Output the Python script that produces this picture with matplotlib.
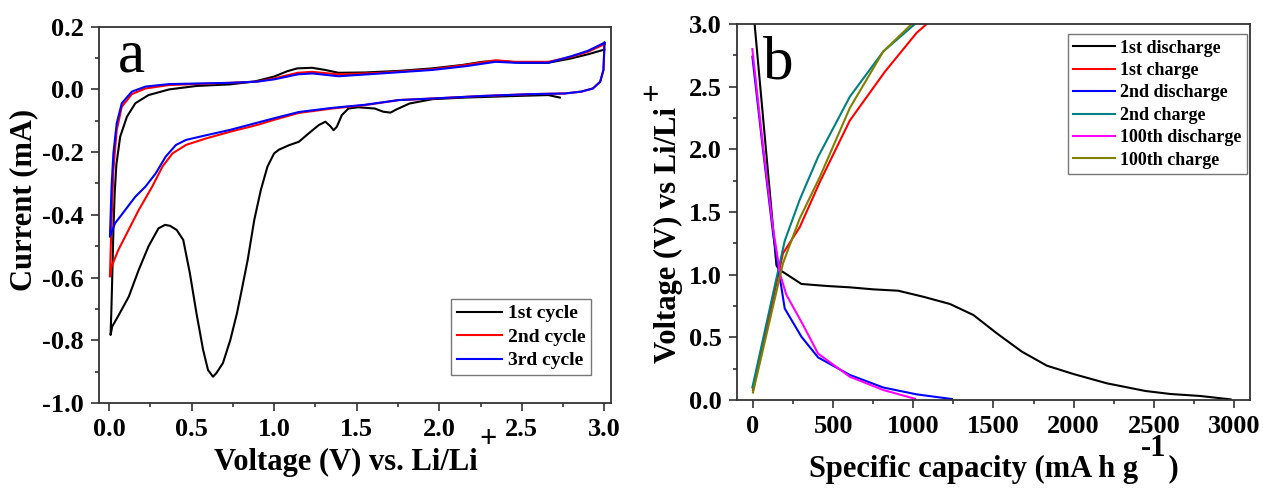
import matplotlib
matplotlib.use("Agg")
import matplotlib.pyplot as plt
from matplotlib.ticker import MultipleLocator, FormatStrFormatter

# ---- panel a: cyclic voltammetry (V, mA) ----
cv1_v = [2.73, 2.66, 2.46, 2.16, 1.96, 1.82, 1.74, 1.705, 1.66, 1.61, 1.51, 1.45, 1.41, 1.38, 1.36,
         1.34, 1.31, 1.27, 1.21, 1.15, 1.09, 1.03, 1.0, 0.96, 0.92, 0.88, 0.84, 0.80, 0.775, 0.735,
         0.69, 0.65, 0.63, 0.60, 0.57, 0.53, 0.49, 0.45, 0.41, 0.37, 0.34, 0.30, 0.24, 0.18, 0.12,
         0.06, 0.02, 0.01,
         0.015, 0.02, 0.027, 0.035, 0.045, 0.068, 0.109, 0.16, 0.24, 0.365, 0.53, 0.73, 0.88, 1.0,
         1.08, 1.14, 1.23, 1.31, 1.39, 1.55, 1.755, 1.956, 2.14, 2.26, 2.36, 2.5, 2.66, 2.8, 2.9, 3.0]
cv1_i = [-0.026, -0.018, -0.021, -0.026, -0.031, -0.045, -0.064, -0.074, -0.071, -0.061, -0.057,
         -0.061, -0.082, -0.119, -0.13, -0.117, -0.103, -0.114, -0.14, -0.167, -0.178, -0.192, -0.204,
         -0.246, -0.32, -0.416, -0.544, -0.65, -0.714, -0.799, -0.873, -0.905, -0.916, -0.895, -0.83,
         -0.714, -0.586, -0.48, -0.448, -0.435, -0.432, -0.443, -0.50, -0.576, -0.661, -0.719, -0.756,
         -0.783,
         -0.70, -0.60, -0.45, -0.33, -0.24, -0.151, -0.087, -0.044, -0.018, 0.0, 0.011, 0.016, 0.025,
         0.041, 0.058, 0.067, 0.069, 0.062, 0.053, 0.054, 0.059, 0.067, 0.078, 0.088, 0.091, 0.085,
         0.085, 0.099, 0.112, 0.127]

cv2_v = [3.0, 2.997, 2.994, 2.974, 2.93, 2.86, 2.76, 2.56, 2.26, 1.96, 1.755, 1.55, 1.35, 1.15, 1.0,
         0.9, 0.734, 0.59, 0.467, 0.385, 0.324, 0.262, 0.18, 0.119, 0.057, 0.016, 0.006,
         0.016, 0.027, 0.047, 0.078, 0.139, 0.221, 0.365, 0.734, 0.9, 1.0, 1.143, 1.23, 1.39, 1.65,
         1.956, 2.16, 2.34, 2.46, 2.66, 2.8, 2.9, 3.0]
cv2_i = [0.144, 0.10, 0.062, 0.024, 0.003, -0.007, -0.013, -0.015, -0.021, -0.029, -0.034, -0.05,
         -0.061, -0.075, -0.097, -0.113, -0.135, -0.156, -0.177, -0.204, -0.246, -0.31, -0.385,
         -0.448, -0.512, -0.565, -0.597,
         -0.416, -0.257, -0.13, -0.055, -0.015, 0.003, 0.014, 0.021, 0.025, 0.035, 0.053, 0.056,
         0.048, 0.053, 0.064, 0.078, 0.093, 0.088, 0.088, 0.104, 0.12, 0.144]

cv3_v = [3.0, 2.997, 2.994, 2.974, 2.93, 2.86, 2.76, 2.56, 2.26, 1.96, 1.755, 1.55, 1.35, 1.15, 1.0,
         0.734, 0.59, 0.467, 0.406, 0.344, 0.283, 0.221, 0.16, 0.098, 0.037, 0.006,
         0.016, 0.027, 0.047, 0.078, 0.139, 0.221, 0.365, 0.734, 0.9, 1.0, 1.143, 1.23, 1.39, 1.65,
         1.956, 2.16, 2.34, 2.46, 2.66, 2.8, 2.9, 3.0]
cv3_i = [0.149, 0.10, 0.062, 0.024, 0.003, -0.007, -0.013, -0.015, -0.021, -0.029, -0.034, -0.049,
         -0.059, -0.072, -0.092, -0.129, -0.146, -0.161, -0.177, -0.214, -0.268, -0.31, -0.342,
         -0.385, -0.427, -0.47,
         -0.31, -0.204, -0.108, -0.044, -0.007, 0.009, 0.017, 0.021, 0.025, 0.032, 0.048, 0.051,
         0.042, 0.051, 0.062, 0.074, 0.088, 0.085, 0.085, 0.106, 0.123, 0.149]

cv_labels = ["1st cycle", "2nd cycle", "3rd cycle"]

# ---- panel b: charge/discharge profiles (mA h g-1, V) ----
dis1_cap = [10, 146, 150, 177, 302, 458, 604, 750, 906, 1062, 1229, 1375, 1521, 1677, 1833, 2000,
            2208, 2448, 2604, 2791, 2979]
dis1_v = [3.0, 1.077, 1.064, 1.03, 0.926, 0.91, 0.899, 0.883, 0.872, 0.824, 0.766, 0.678, 0.532,
          0.386, 0.274, 0.207, 0.133, 0.072, 0.048, 0.032, 0.005]
chg1_cap = [0, 187, 292, 417, 604, 823, 1021, 1083]
chg1_v = [0.08, 1.17, 1.38, 1.74, 2.23, 2.62, 2.93, 3.0]
dis2_cap = [-4, 62, 125, 167, 198, 302, 406, 604, 812, 1021, 1240]
dis2_v = [2.74, 2.0, 1.33, 0.98, 0.73, 0.505, 0.34, 0.2, 0.10, 0.045, 0.008]
chg2_cap = [-4, 198, 292, 406, 604, 812, 1010]
chg2_v = [0.10, 1.27, 1.6, 1.94, 2.42, 2.78, 3.0]
dis100_cap = [-4, 62, 125, 170, 208, 312, 406, 604, 812, 1010]
dis100_v = [2.8, 2.03, 1.37, 1.0, 0.84, 0.6, 0.37, 0.186, 0.08, 0.01]
chg100_cap = [0, 187, 292, 417, 604, 812, 990]
chg100_v = [0.06, 1.09, 1.45, 1.78, 2.33, 2.78, 3.0]

gcd_labels = ["1st discharge", "1st charge", "2nd discharge", "2nd charge",
              "100th discharge", "100th charge"]

plt.rcParams["font.family"] = ["Liberation Serif", "DejaVu Serif"]
plt.rcParams["font.weight"] = "bold"
plt.rcParams["axes.linewidth"] = 1.3
plt.rcParams["axes.edgecolor"] = "#333333"


def style_axes(ax):
    ax.tick_params(which="both", direction="out", top=False, right=False,
                   labelsize=19, width=1.2, color="#333333")
    ax.tick_params(which="major", length=6, pad=5)
    ax.tick_params(which="minor", length=3)
    for lab in ax.get_xticklabels() + ax.get_yticklabels():
        lab.set_fontweight("bold")


fig = plt.figure(figsize=(12.63, 4.88), dpi=100)

# panel a
ax1 = fig.add_axes([0.0784, 0.1742, 0.4054, 0.7711])
ax1.plot(cv1_v, cv1_i, color="black", lw=1.5, label=cv_labels[0])
ax1.plot(cv2_v, cv2_i, color="red", lw=1.5, label=cv_labels[1])
ax1.plot(cv3_v, cv3_i, color="blue", lw=1.5, label=cv_labels[2])
ax1.set_xlim(-0.06, 3.04)
ax1.set_ylim(-1.0, 0.2)
ax1.xaxis.set_major_locator(MultipleLocator(0.5))
ax1.xaxis.set_minor_locator(MultipleLocator(0.25))
ax1.yaxis.set_major_locator(MultipleLocator(0.2))
ax1.yaxis.set_minor_locator(MultipleLocator(0.1))
ax1.xaxis.set_major_formatter(FormatStrFormatter("%.1f"))
ax1.yaxis.set_major_formatter(FormatStrFormatter("%.1f"))
style_axes(ax1)
ax1.set_ylabel("Current (mA)", fontsize=22, fontweight="bold")
ax1.yaxis.set_label_coords(-0.119, 0.54)
ax1.set_xlabel("Voltage (V) vs. Li/Li", fontsize=22, fontweight="bold")
ax1.xaxis.set_label_coords(0.482, -0.12)
ax1.text(0.76, -0.096, "+", transform=ax1.transAxes, fontsize=22, fontweight="bold",
         ha="center", va="center")
ax1.text(0.037, 0.88, "a", transform=ax1.transAxes, fontsize=44, fontweight="normal",
         va="baseline")
leg1 = ax1.legend(loc="lower right", bbox_to_anchor=(0.961, 0.074), borderaxespad=0,
                  prop={"weight": "bold", "size": 14}, fancybox=False,
                  edgecolor="#777777", framealpha=1, handlelength=2.3, labelspacing=0.3,
                  handletextpad=0.3, borderpad=0.3)
leg1.get_frame().set_linewidth(1.0)

# panel b
ax2 = fig.add_axes([0.5835, 0.1803, 0.4062, 0.7705])
ax2.plot(dis1_cap, dis1_v, color="black", lw=1.5, label=gcd_labels[0])
ax2.plot(chg1_cap, chg1_v, color="red", lw=1.5, label=gcd_labels[1])
ax2.plot(dis2_cap, dis2_v, color="blue", lw=1.5, label=gcd_labels[2])
ax2.plot(chg2_cap, chg2_v, color="#008080", lw=1.5, label=gcd_labels[3])
ax2.plot(dis100_cap, dis100_v, color="magenta", lw=1.5, label=gcd_labels[4])
ax2.plot(chg100_cap, chg100_v, color="#808000", lw=1.5, label=gcd_labels[5])
ax2.set_xlim(-100, 3100)
ax2.set_ylim(0, 3.0)
ax2.xaxis.set_major_locator(MultipleLocator(500))
ax2.xaxis.set_minor_locator(MultipleLocator(250))
ax2.yaxis.set_major_locator(MultipleLocator(0.5))
ax2.yaxis.set_minor_locator(MultipleLocator(0.25))
ax2.yaxis.set_major_formatter(FormatStrFormatter("%.1f"))
style_axes(ax2)
ax2.set_ylabel("Voltage (V) vs Li/Li", fontsize=22, fontweight="bold")
ax2.yaxis.set_label_coords(-0.105, 0.439)
ax2.text(-0.17, 0.806, "+", transform=ax2.transAxes, fontsize=22, fontweight="bold",
         ha="center", va="center")
ax2.set_xlabel("Specific capacity (mA h g    )", fontsize=22, fontweight="bold")
ax2.xaxis.set_label_coords(0.50, -0.145)
ax2.text(0.813, -0.13, "-1", transform=ax2.transAxes, fontsize=22, fontweight="bold",
         ha="center", va="center")
ax2.text(0.05, 0.856, "b", transform=ax2.transAxes, fontsize=44, fontweight="normal",
         va="baseline")
leg2 = ax2.legend(loc="upper right", bbox_to_anchor=(0.994, 0.973), borderaxespad=0,
                  prop={"weight": "bold", "size": 13}, fancybox=False,
                  edgecolor="#777777", framealpha=1, handlelength=2.3, labelspacing=0.3,
                  handletextpad=0.3, borderpad=0.3)
leg2.get_frame().set_linewidth(1.0)

fig.savefig("out.png", dpi=100)
plt.close(fig)
